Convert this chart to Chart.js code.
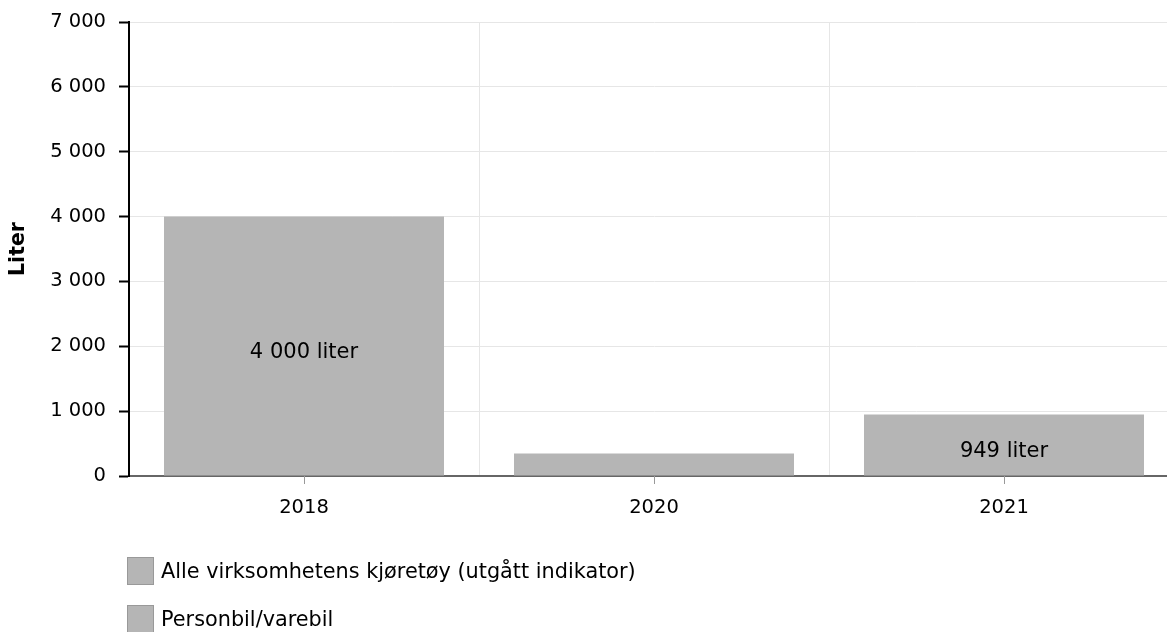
<!DOCTYPE html>
<html>
<head>
<meta charset="utf-8">
<script src="https://cdn.jsdelivr.net/npm/chart.js@4"></script>
<style>
    html, body { margin: 0; padding: 0; background: #fff; overflow: hidden; }
    #wrap { position: relative; width: 1180px; height: 632px; }
    #legend { position: absolute; left: 127px; top: 556px; font-family: 'DejaVu Sans', Verdana, sans-serif; font-size: 20.8px; color: #000; }
    .item { display: flex; align-items: center; height: 29px; margin-bottom: 19px; }
    .box { width: 27px; height: 28px; box-sizing: border-box; border: 1px solid #999; background: #b5b5b5; margin-right: 7px; }
</style>
</head>
<body>
<div id="wrap">
    <canvas id="chart" width="1180" height="632"></canvas>
    <div id="legend"></div>
</div>
<script>
const years = ['2018', '2020', '2021'];
const seriesNames = ['Alle virksomhetens kjøretøy (utgått indikator)', 'Personbil/varebil'];
const alleKjoretoy = [4000, null, null];
const personbil = [null, 345, 949];
const yTicks = [0, 1000, 2000, 3000, 4000, 5000, 6000, 7000];

const barColor = '#b5b5b5';

function fmt(v) {
    return String(v).replace(/\B(?=(\d{3})+(?!\d))/g, ' ');
}

// value labels inside bars + small tick marks under category centres
const extras = {
    id: 'extras',
    afterDatasetsDraw(chart) {
        const ctx = chart.ctx;
        ctx.save();
        ctx.font = '21px "DejaVu Sans"';
        ctx.fillStyle = '#000';
        ctx.textAlign = 'center';
        ctx.textBaseline = 'middle';
        chart.data.datasets.forEach((ds, di) => {
            chart.getDatasetMeta(di).data.forEach((bar, i) => {
                const v = ds.data[i];
                if (v == null) return;
                const h = bar.base - bar.y;
                if (h < 30) return;
                ctx.fillText(fmt(v) + ' liter', bar.x, bar.y + h / 2 + 7);
            });
        });
        const xs = chart.scales.x;
        ctx.strokeStyle = '#999';
        ctx.lineWidth = 1;
        years.forEach((y, i) => {
            const px = Math.round(xs.getPixelForValue(i)) + 0.5;
            ctx.beginPath();
            ctx.moveTo(px, xs.top);
            ctx.lineTo(px, xs.top + 8);
            ctx.stroke();
        });
        ctx.restore();
    }
};

new Chart(document.getElementById('chart').getContext('2d'), {
    type: 'bar',
    data: {
        labels: years,
        datasets: [{
            label: seriesNames[0],
            data: alleKjoretoy,
            backgroundColor: barColor
        }, {
            label: seriesNames[1],
            data: personbil,
            backgroundColor: barColor
        }]
    },
    options: {
        responsive: false,
        animation: false,
        layout: { padding: { top: 22, left: 0, right: 1, bottom: 0 } },
        plugins: {
            legend: { display: false },
            tooltip: { enabled: false }
        },
        datasets: {
            bar: { barPercentage: 0.8, categoryPercentage: 1 }
        },
        scales: {
            x: {
                stacked: true,
                grid: { color: '#e6e6e6', drawTicks: false, offset: true },
                border: { color: '#666', width: 2 },
                ticks: {
                    color: '#000',
                    padding: 20,
                    font: { family: 'DejaVu Sans', size: 19.5 }
                },
                afterFit: (s) => { s.height = 156; }
            },
            y: {
                stacked: true,
                min: 0,
                max: 7000,
                afterBuildTicks: (s) => { s.ticks = yTicks.map(v => ({ value: v })); },
                grid: { color: '#e6e6e6', tickColor: '#000', tickWidth: 2, tickLength: 10 },
                border: { color: '#000', width: 2 },
                ticks: {
                    color: '#000',
                    padding: 13,
                    font: { family: 'DejaVu Sans', size: 19.5 },
                    callback: (v) => fmt(v)
                },
                title: {
                    display: true,
                    text: 'Liter',
                    color: '#000',
                    font: { family: 'DejaVu Sans', size: 20.5, weight: 'bold' },
                    padding: { top: 6, bottom: 0 }
                },
                afterFit: (s) => {
                    s.width = 129;
                    s.paddingTop = 0;
                    s.paddingBottom = 0;
                }
            }
        }
    },
    plugins: [extras]
});

const legend = document.getElementById('legend');
seriesNames.forEach(name => {
    const item = document.createElement('div');
    item.className = 'item';
    item.innerHTML = '<span class="box"></span><span></span>';
    item.lastChild.textContent = name;
    legend.appendChild(item);
});
</script>
</body>
</html>
